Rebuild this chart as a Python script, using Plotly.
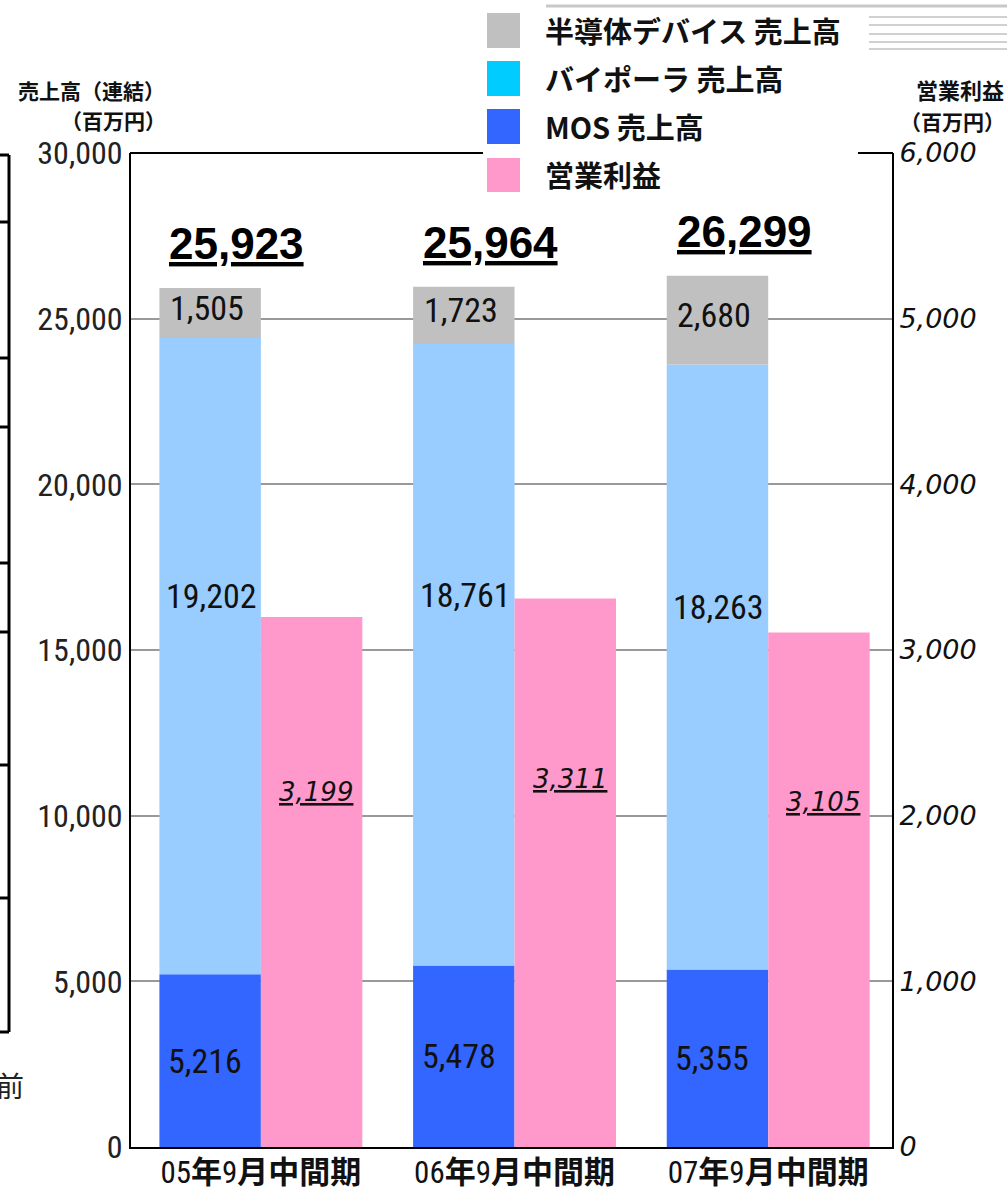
import plotly.graph_objects as go

categories = ["05年9月中間期", "06年9月中間期", "07年9月中間期"]
cat_labels = ["05<b>年</b>9<b>月中間期</b>", "06<b>年</b>9<b>月中間期</b>", "07<b>年</b>9<b>月中間期</b>"]
mos_sales = [5216, 5478, 5355]
bipolar_sales = [19202, 18761, 18263]
semi_sales = [1505, 1723, 2680]
total_sales = [25923, 25964, 26299]
op_profit = [3199, 3311, 3105]
left_ticks = [0, 5000, 10000, 15000, 20000, 25000, 30000]
right_ticks = [0, 1000, 2000, 3000, 4000, 5000, 6000]

C_SEMI = "#C0C0C0"
C_BIP = "#99CCFF"
C_BIP_LEG = "#00CCFF"
C_MOS = "#3366FF"
C_PINK = "#FF99CC"

W, H = 1007, 1192
L, R, T, B = 131, 892, 153, 1147
def px(x):
    return (x - L) / (R - L)
def py(y):
    return (B - y) / (B - T)

NARROW = "Liberation Sans Narrow, Arial Narrow, Roboto Condensed, DejaVu Sans Condensed, sans-serif"
CJK = "Noto Sans CJK JP, sans-serif"

fig = go.Figure()
base_bip = mos_sales
base_semi = [m + b for m, b in zip(mos_sales, bipolar_sales)]
fig.add_trace(go.Bar(x=categories, y=mos_sales, base=[0]*3, marker_color=C_MOS,
                     offsetgroup="s", name="MOS 売上高", yaxis="y"))
fig.add_trace(go.Bar(x=categories, y=bipolar_sales, base=base_bip, marker_color=C_BIP,
                     offsetgroup="s", name="バイポーラ 売上高", yaxis="y"))
fig.add_trace(go.Bar(x=categories, y=semi_sales, base=base_semi, marker_color=C_SEMI,
                     offsetgroup="s", name="半導体デバイス 売上高", yaxis="y"))
fig.add_trace(go.Bar(x=categories, y=op_profit, marker_color=C_PINK,
                     offsetgroup="p", name="営業利益", yaxis="y2"))
for tr in fig.data:
    tr.marker.line.width = 0

ann = []
# segment value labels
for i, c in enumerate(categories):
    ann.append(dict(x=c, y=mos_sales[i] / 2, xref="x", yref="y", text=f"{mos_sales[i]:,}",
                    xanchor="left", yanchor="middle", xshift=-95, showarrow=False,
                    font=dict(family=NARROW, size=34, color="#111")))
    ann.append(dict(x=c, y=mos_sales[i] + bipolar_sales[i] / 2 + 1800, xref="x", yref="y",
                    text=f"{bipolar_sales[i]:,}", xanchor="left", yanchor="middle", xshift=-97,
                    showarrow=False, font=dict(family=NARROW, size=34, color="#111")))
    ann.append(dict(x=c, y=base_semi[i] + semi_sales[i] / 2, xref="x", yref="y",
                    text=f"{semi_sales[i]:,}", xanchor="left", yanchor="middle", xshift=-93, yshift=5,
                    showarrow=False, font=dict(family=NARROW, size=34, color="#111")))
    ann.append(dict(x=c, y=total_sales[i], xref="x", yref="y", text=f"<b><u>{total_sales[i]:,}</u></b>",
                    xanchor="center", yanchor="bottom", xshift=-24, yshift=18, showarrow=False,
                    font=dict(family="Liberation Sans, Arial, sans-serif", size=44, color="#000")))
    ann.append(dict(x=c, y=op_profit[i] * 0.67, xref="x", yref="y2", text=f"<i><u>{op_profit[i]:,}</u></i>",
                    xanchor="center", yanchor="middle", xshift=55, showarrow=False,
                    font=dict(family="DejaVu Sans, sans-serif", size=26, color="#111")))

# axis titles
ann.append(dict(x=px(167), y=py(90), xref="paper", yref="paper", text="<b>売上高（連結）</b>",
                xanchor="right", yanchor="middle", showarrow=False, font=dict(family=CJK, size=21, color="#111")))
ann.append(dict(x=px(168), y=py(120), xref="paper", yref="paper", text="<b>（百万円）</b>",
                xanchor="right", yanchor="middle", showarrow=False, font=dict(family=CJK, size=21, color="#111")))
ann.append(dict(x=px(1006), y=py(89), xref="paper", yref="paper", text="<b>営業利益</b>",
                xanchor="right", yanchor="middle", showarrow=False, font=dict(family=CJK, size=22, color="#111")))
ann.append(dict(x=px(1007), y=py(121), xref="paper", yref="paper", text="<b>（百万円）</b>",
                xanchor="right", yanchor="middle", showarrow=False, font=dict(family=CJK, size=21, color="#111")))
# partial char at left edge (cut off in the reference as well)
ann.append(dict(x=px(26), y=py(1085), xref="paper", yref="paper", text="前",
                xanchor="right", yanchor="middle", showarrow=False, font=dict(family=CJK, size=28, color="#222")))

# legend
legend_items = [("半導体デバイス 売上高", C_SEMI), ("バイポーラ 売上高", C_BIP_LEG),
                ("MOS 売上高", C_MOS), ("営業利益", C_PINK)]
shapes = []
for k, (txt, col) in enumerate(legend_items):
    yc = 30 + 48 * k
    shapes.append(dict(type="rect", xref="paper", yref="paper", x0=px(487), x1=px(520),
                       y0=py(yc + 18), y1=py(yc - 17), fillcolor=col, line=dict(width=0), layer="above"))
    ann.append(dict(x=px(543), y=py(yc), xref="paper", yref="paper", text=f"<b>{txt}</b>",
                    xanchor="left", yanchor="middle", showarrow=False, font=dict(family=CJK, size=29, color="#111")))

# decorative stripes top right
shapes.append(dict(type="line", xref="paper", yref="paper", x0=px(546), x1=px(1010), y0=py(6), y1=py(6),
                   line=dict(color="#C8C8C8", width=3)))
for yy in [17, 25, 34, 42, 49]:
    shapes.append(dict(type="line", xref="paper", yref="paper", x0=px(869), x1=px(1010), y0=py(yy), y1=py(yy),
                       line=dict(color="#D0D0D0", width=2)))

# cover top gridline behind legend and draw top frame
shapes.append(dict(type="rect", xref="paper", yref="paper", x0=px(483), x1=px(858), y0=py(158), y1=py(146),
                   fillcolor="white", line=dict(width=0), layer="above"))
shapes.append(dict(type="line", xref="paper", yref="paper", x0=px(130), x1=px(483), y0=1, y1=1,
                   line=dict(color="black", width=2), layer="above"))
shapes.append(dict(type="line", xref="paper", yref="paper", x0=px(858), x1=px(893), y0=1, y1=1,
                   line=dict(color="black", width=2), layer="above"))

# left cropped frame artifact
shapes.append(dict(type="line", xref="paper", yref="paper", x0=px(9), x1=px(9), y0=py(155), y1=py(1032),
                   line=dict(color="black", width=3)))
for yy in [155, 222, 358, 427, 563, 632, 765, 898, 1032]:
    shapes.append(dict(type="line", xref="paper", yref="paper", x0=px(-2), x1=px(9), y0=py(yy), y1=py(yy),
                       line=dict(color="black", width=3)))

fig.update_layout(
    template="none",
    width=W, height=H,
    margin=dict(l=L, r=W - R, t=T, b=H - B, pad=0, autoexpand=False),
    paper_bgcolor="white", plot_bgcolor="white",
    barmode="group", bargap=0.2, bargroupgap=0,
    showlegend=False, hovermode=False,
    annotations=ann, shapes=shapes,
    xaxis=dict(tickvals=categories, ticktext=cat_labels, range=[-0.512, 2.488], showline=True,
               linecolor="black", linewidth=2, ticklabelstandoff=-3,
               tickfont=dict(family=NARROW + ", " + CJK, size=31, color="#111"), ticks="", showgrid=False,
               zeroline=False, automargin=False),
    yaxis=dict(range=[0, 30000], tickvals=left_ticks, tickformat=",d", showline=True, linecolor="black",
               linewidth=2, showgrid=True, gridcolor="#999999", gridwidth=2, zeroline=False, ticks="",
               tickfont=dict(family=NARROW, size=32, color="#222"), automargin=False),
    yaxis2=dict(range=[0, 6000], tickvals=right_ticks, tickformat=",d", overlaying="y", side="right",
                showline=True, linecolor="black", linewidth=2, showgrid=False, zeroline=False, ticks="",
                tickfont=dict(family="DejaVu Sans, sans-serif", size=27, color="#111", style="italic"),
                automargin=False),
)

fig.write_html("out.html", config={"displayModeBar": False},
               post_script="document.body.style.margin='0';document.body.style.padding='0';")
